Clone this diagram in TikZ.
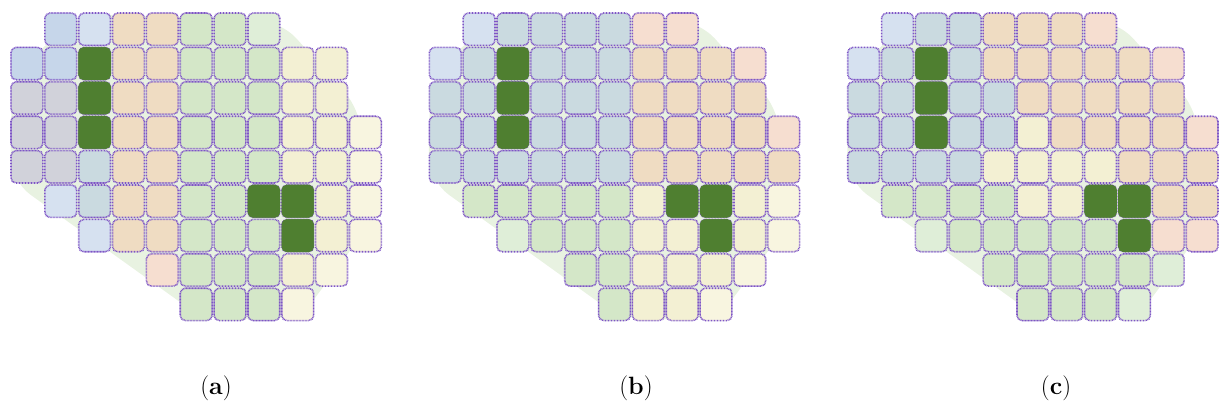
\documentclass[tikz,border=0pt]{standalone}

\definecolor{cB}{HTML}{C6D6EA}
\definecolor{cL}{HTML}{D6E1F0}
\definecolor{cM}{HTML}{CADAE0}
\definecolor{cS}{HTML}{D1D2DA}
\definecolor{cP}{HTML}{EFDCC2}
\definecolor{cK}{HTML}{F6DED0}
\definecolor{cG}{HTML}{D4E7C8}
\definecolor{cN}{HTML}{DFEED8}
\definecolor{cY}{HTML}{F3F0D3}
\definecolor{cW}{HTML}{F8F5E0}
\definecolor{cD}{HTML}{4F7F30}
\definecolor{cline}{HTML}{7E55C6}
\definecolor{cbg}{HTML}{E8F2E1}

\tikzset{
  cell/.style={draw=cline, line width=1.6pt, dash pattern=on 0.8pt off 0.7pt, rounded corners=5pt},
  darkcell/.style={fill=cD, draw=cD, line width=0.6pt, rounded corners=5pt},
  bgblob/.style={fill=cbg, rounded corners=25pt},
  caption/.style={font=\fontsize{25}{30}\selectfont, inner sep=0pt}
}

% one row of cells: row, first column, colours
\newcommand{\cellrow}[3]{%
  \foreach \cc [count=\k from #2] in {#3}
    \draw[cell, fill=c\cc] (\k+0.03,#1+0.03) rectangle (\k+0.97,#1+0.97);
}
\newcommand{\darkcells}{%
  \foreach \cx/\cy in {2/1,2/2,2/3,7/5,8/5,8/6}
    \draw[darkcell] (\cx+0.03,\cy+0.03) rectangle (\cx+0.97,\cy+0.97);
}
% faint green patch behind a panel, x offset of the panel
\newcommand{\blob}[1]{%
  \fill[bgblob, xshift=#1pt] (12,78) -- (78,14) -- (280,20) -- (362,112)
    -- (362,235) -- (300,318) -- (205,320) -- (10,180) -- cycle;
}

\begin{document}
\begin{tikzpicture}[x=1pt,y=-1pt,line join=round]
  \useasboundingbox (0,0) rectangle (1219,410);
  \blob{0}
  \blob{418.3}
  \blob{836.7}
  % (a)
  \begin{scope}[shift={(10pt,-12pt)},x=33.85pt,y=-34.4pt]
    \cellrow{0}{1}{B,L,P,P,G,G,N}
    \cellrow{1}{0}{B,B,D,P,P,G,G,G,Y,Y}
    \cellrow{2}{0}{S,S,D,P,P,G,G,G,Y,Y}
    \cellrow{3}{0}{S,S,D,P,P,G,G,G,Y,Y,W}
    \cellrow{4}{0}{S,S,M,P,P,G,G,G,Y,Y,W}
    \cellrow{5}{1}{L,M,P,P,G,G,D,D,Y,W}
    \cellrow{6}{2}{L,P,P,G,G,G,D,Y,W}
    \cellrow{7}{4}{K,G,G,G,Y,W}
    \cellrow{8}{5}{G,G,G,W}
    \darkcells
  \end{scope}
  % (b)
  \begin{scope}[shift={(428.3pt,-12pt)},x=33.85pt,y=-34.4pt]
    \cellrow{0}{1}{L,M,M,M,M,K,K}
    \cellrow{1}{0}{L,M,D,M,M,M,P,P,P,K}
    \cellrow{2}{0}{M,M,D,M,M,M,P,P,P,P}
    \cellrow{3}{0}{M,M,D,M,M,M,P,P,P,P,K}
    \cellrow{4}{0}{M,M,M,M,M,M,P,P,P,P,P}
    \cellrow{5}{1}{G,G,G,G,G,Y,D,D,Y,W}
    \cellrow{6}{2}{N,G,G,G,Y,Y,D,Y,W}
    \cellrow{7}{4}{G,G,Y,Y,Y,W}
    \cellrow{8}{5}{G,Y,Y,W}
    \darkcells
  \end{scope}
  % (c)
  \begin{scope}[shift={(846.7pt,-12pt)},x=33.85pt,y=-34.4pt]
    \cellrow{0}{1}{L,M,M,P,P,P,K}
    \cellrow{1}{0}{L,M,D,M,P,P,P,P,P,K}
    \cellrow{2}{0}{M,M,D,M,M,P,P,P,P,P}
    \cellrow{3}{0}{M,M,D,M,M,Y,P,P,P,P,K}
    \cellrow{4}{0}{M,M,M,M,Y,Y,Y,Y,P,P,P}
    \cellrow{5}{1}{G,G,G,G,Y,Y,D,D,P,P}
    \cellrow{6}{2}{N,G,G,G,G,G,D,K,K}
    \cellrow{7}{4}{G,G,G,G,G,N}
    \cellrow{8}{5}{G,G,G,N}
    \darkcells
  \end{scope}
  \node[caption] (capa) at (216,388) {(\textbf{a})};
  \node[caption] (capb) at (636,388) {(\textbf{b})};
  \node[caption] (capc) at (1056,388) {(\textbf{c})};
\end{tikzpicture}
\end{document}
